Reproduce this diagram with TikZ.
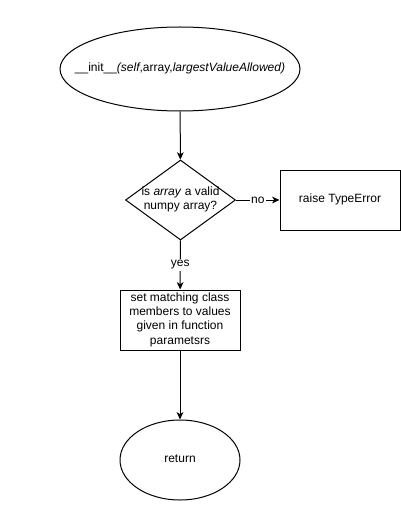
\documentclass[tikz,border=0pt]{standalone}
\usepackage{fontspec}
\setmainfont{Liberation Sans}
\usetikzlibrary{arrows.meta,shapes.geometric}

% text that does not widen its shape
\newcommand{\flowtext}[1]{\makebox[0pt]{\begin{tabular}{@{}c@{}}#1\end{tabular}}}

\begin{document}
\begin{tikzpicture}[
  x=0.75pt, y=-0.75pt,
  term/.style={ellipse, draw, line width=0.75pt, inner sep=0pt, font=\fontsize{9}{10.7}\selectfont},
  proc/.style={rectangle, draw, line width=0.75pt, inner sep=0pt, minimum width=90pt, minimum height=45pt, font=\fontsize{9}{10.7}\selectfont},
  decide/.style={diamond, draw, line width=0.75pt, inner sep=0pt, minimum width=82.5pt, minimum height=60pt, font=\fontsize{9}{10.7}\selectfont},
  flow/.style={-{Stealth[length=5.5pt,width=5pt,inset=1.5pt]}, line width=0.75pt},
  lbl/.style={fill=white, inner sep=1pt, font=\fontsize{9}{10.7}\selectfont}
]
\fill[white] (0,0) rectangle (400,531);
\useasboundingbox (0,0) rectangle (400,531);

% Start
\node[term, minimum width=180pt, minimum height=63pt] (init) at (180,69)
  {\flowtext{\_\_init\_\_\textit{(self},array,\textit{largestValueAllowed)}}};

% Check
\node[decide] (check) at (180.5,200)
  {\flowtext{is \textit{array} a valid\\numpy array?}};

% Error
\node[proc] (raise) at (340,200) {\flowtext{raise TypeError}};

% Assign
\node[proc] (assign) at (180,320)
  {\flowtext{set matching class\\members to values\\given in function\\parametsrs}};

% End
\node[term, minimum width=90pt, minimum height=60pt] (ret) at (180,460) {\flowtext{return}};

\draw[flow] (init) -- (check);
\draw[flow] (check) -- node[lbl] (no) {no} (raise);
\draw[flow] (check) -- node[lbl] (yes) {yes} (assign);
\draw[flow] (assign) -- (ret);
\end{tikzpicture}
\end{document}
